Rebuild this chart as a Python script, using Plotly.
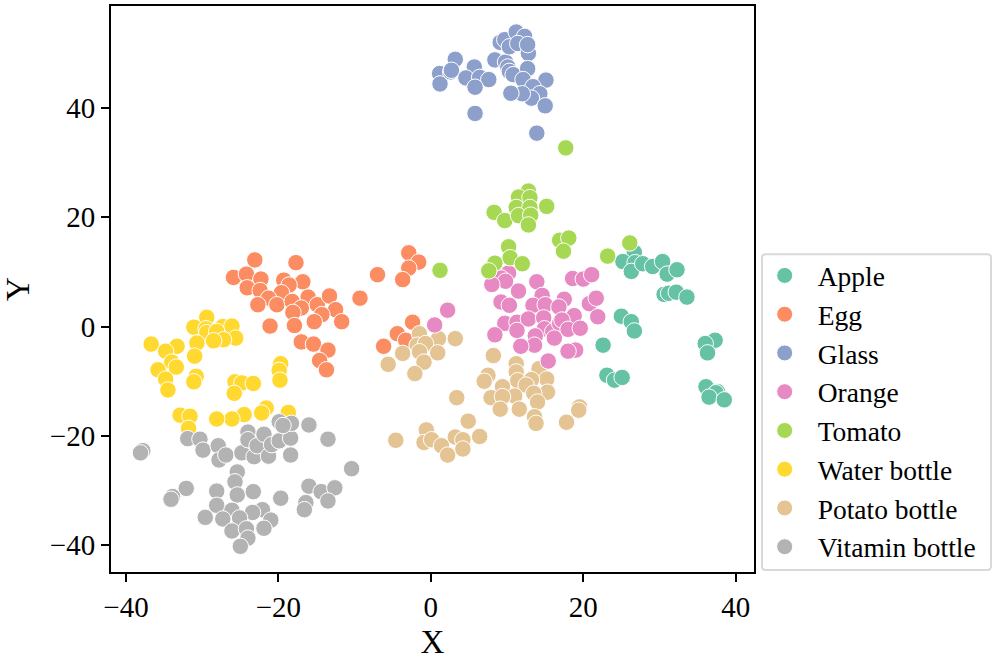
import plotly.graph_objects as go

categories = ["Apple", "Egg", "Glass", "Orange", "Tomato", "Water bottle", "Potato bottle", "Vitamin bottle"]
colors = ["#66c2a5", "#fc8d62", "#8da0cb", "#e78ac3", "#a6d854", "#ffd92f", "#e5c494", "#b3b3b3"]

apple_x = [26.7, 25.2, 26.8, 26.3, 27.8, 29.1, 30.4, 31.0, 32.3, 30.6, 31.2, 32.2, 33.6, 25.0, 26.3, 26.7, 22.6, 23.1, 24.1, 25.1, 37.3, 36.0, 36.3, 36.1, 37.6, 37.4, 36.5, 38.5]
apple_y = [13.6, 11.9, 11.7, 10.1, 11.5, 11.0, 11.9, 9.6, 10.4, 5.9, 6.1, 6.3, 5.4, 1.9, 0.9, -0.8, -3.4, -8.9, -9.8, -9.3, -2.5, -3.1, -4.8, -11.0, -11.9, -12.1, -12.9, -13.4]

egg_x = [-23.1, -17.7, -25.9, -24.2, -22.3, -24.1, -22.4, -19.3, -16.8, -18.6, -19.6, -21.3, -22.7, -20.2, -18.2, -16.1, -17.0, -18.1, -14.9, -13.3, -12.5, -14.3, -15.3, -11.7, -21.1, -17.9, -17.0, -15.4, -13.5, -14.6, -13.7, -9.3, -7.0, -2.9, -1.6, -2.9, -3.7, -2.4, -4.4, -6.2, -3.3]
egg_y = [12.2, 11.7, 9.0, 9.6, 8.7, 7.1, 6.6, 8.5, 8.2, 7.6, 6.2, 5.2, 4.0, 4.0, 4.6, 5.4, 3.4, 2.6, 4.0, 5.6, 3.1, 2.2, 0.9, 0.9, 0.1, 0.2, -2.8, -3.2, -4.3, -6.2, -7.9, 5.2, 9.5, 13.5, 11.8, 10.7, 8.6, 0.8, -1.3, -3.6, -2.5]

glass_x = [1.15, 1.2, 3.2, 2.6, 2.7, 5.7, 4.6, 6.4, 7.6, 5.8, 5.8, 13.9, 8.4, 9.8, 10.1, 10.3, 10.8, 9.1, 9.7, 11.2, 12.3, 10.3, 11.4, 12.8, 12.7, 12.7, 12.1, 15.1, 13.4, 14.3, 13.2, 12.0, 10.5, 15.0]
glass_y = [46.3, 44.4, 48.9, 46.6, 46.9, 47.5, 45.5, 45.6, 45.2, 43.8, 39.0, 35.4, 48.8, 48.4, 47.5, 46.7, 46.1, 52.0, 52.5, 53.9, 53.1, 51.2, 51.8, 50.0, 51.6, 47.2, 45.2, 45.1, 43.9, 42.6, 41.8, 42.6, 42.7, 40.4]

orange_x = [10.2, 9.2, 9.8, 8.0, 13.9, 11.5, 18.6, 20.0, 21.1, 9.2, 10.3, 14.6, 17.5, 20.8, 21.7, 21.9, 13.4, 15.0, 16.8, 18.8, 9.7, 11.3, 12.8, 14.8, 11.3, 8.4, 14.9, 16.0, 16.9, 17.2, 18.0, 19.6, 16.2, 13.7, 13.6, 11.8, 19.0, 18.0, 15.4, 2.2, 0.5]
orange_y = [9.8, 8.9, 8.3, 7.7, 8.2, 6.5, 8.8, 8.7, 9.5, 4.5, 3.9, 5.7, 5.0, 4.2, 5.2, 1.8, 3.9, 4.0, 3.6, 2.0, 0.6, 0.8, 1.4, 1.6, -0.7, -1.5, -0.4, -0.9, 0.6, 1.2, -0.5, -0.3, -2.1, -1.7, -3.4, -3.6, -4.3, -4.5, -6.3, 3.0, 0.3]

tomato_x = [1.2, 17.7, 12.8, 11.5, 13.0, 15.2, 11.2, 13.0, 8.3, 9.7, 11.5, 13.1, 12.8, 16.9, 18.1, 17.4, 23.2, 26.1, 10.2, 10.4, 12.0, 8.4, 7.6]
tomato_y = [10.3, 32.7, 24.8, 23.7, 23.6, 22.0, 21.8, 21.8, 20.9, 19.4, 20.3, 20.4, 18.6, 15.8, 16.2, 13.8, 12.9, 15.3, 14.6, 12.6, 11.5, 11.6, 10.2]

water_x = [-29.4, -31.1, -29.5, -29.4, -27.3, -26.1, -28.1, -25.6, -27.2, -28.5, -30.7, -33.3, -36.7, -34.8, -31.0, -34.0, -33.4, -35.8, -34.8, -34.5, -30.8, -31.1, -25.7, -24.8, -23.3, -25.8, -19.7, -19.9, -19.8, -21.6, -22.2, -18.7, -24.5, -26.1, -28.1, -32.9, -31.6, -31.8]
water_y = [1.7, -0.1, -0.4, -1.1, 0.0, 0.1, -0.9, -2.1, -2.4, -2.6, -3.0, -3.6, -3.2, -4.5, -5.4, -6.5, -7.4, -7.9, -9.6, -11.6, -9.1, -10.1, -10.1, -10.3, -10.4, -12.2, -6.8, -8.0, -9.8, -14.9, -15.8, -15.7, -16.1, -16.9, -16.9, -16.2, -16.4, -18.6]

potato_x = [-1.5, 1.0, 3.2, -1.8, -0.7, 0.9, -3.7, -1.5, -0.9, -5.6, -2.1, 3.4, 4.9, -4.6, -0.6, -0.9, 0.1, 1.4, 2.2, 3.2, 4.2, 4.2, 6.4, 8.2, 11.2, 11.2, 11.4, 7.5, 7.0, 14.2, 15.2, 13.2, 12.5, 15.3, 13.5, 14.0, 9.4, 11.0, 7.9, 9.4, 9.1, 11.6, 13.6, 13.8, 17.8, 19.5, 19.4]
potato_y = [-1.3, -2.2, -2.2, -3.4, -3.1, -4.8, -4.9, -4.6, -6.5, -6.9, -8.6, -13.0, -17.3, -20.8, -18.9, -21.2, -20.7, -21.8, -23.5, -20.2, -20.7, -22.4, -20.1, -5.3, -6.8, -8.3, -9.9, -8.9, -10.0, -7.7, -9.6, -9.7, -10.7, -12.0, -12.2, -13.8, -11.0, -12.7, -13.0, -12.8, -15.1, -15.1, -16.5, -17.7, -17.5, -14.7, -15.3]

vitamin_x = [-37.8, -38.1, -31.9, -30.3, -29.9, -27.9, -27.8, -26.9, -24.8, -24.0, -24.0, -23.2, -22.8, -21.9, -21.3, -20.9, -19.9, -18.4, -18.4, -19.9, -18.3, -19.4, -16.0, -13.5, -10.4, -25.4, -25.7, -32.1, -33.9, -34.1, -28.1, -25.4, -23.3, -19.7, -28.1, -26.1, -22.1, -23.4, -25.1, -29.6, -27.3, -21.0, -21.9, -26.1, -24.2, -24.0, -25.0, -16.0, -14.4, -12.6, -13.5, -16.4, -16.6]
vitamin_y = [-22.7, -23.1, -20.5, -20.6, -22.6, -21.8, -24.4, -23.5, -23.1, -19.3, -20.7, -23.8, -21.8, -19.7, -23.7, -21.6, -20.9, -20.4, -23.5, -17.4, -17.7, -18.1, -18.0, -20.6, -26.0, -26.6, -28.4, -29.6, -31.1, -31.6, -30.1, -30.8, -30.2, -31.4, -32.7, -33.6, -33.5, -34.0, -35.0, -34.9, -35.2, -35.4, -36.9, -37.4, -37.0, -38.7, -40.2, -29.2, -30.2, -29.5, -31.9, -32.2, -33.5]

xs = [apple_x, egg_x, glass_x, orange_x, tomato_x, water_x, potato_x, vitamin_x]
ys = [apple_y, egg_y, glass_y, orange_y, tomato_y, water_y, potato_y, vitamin_y]
draw_order = [0, 1, 2, 6, 3, 4, 5, 7]
x_ticks = [-40, -20, 0, 20, 40]
y_ticks = [-40, -20, 0, 20, 40]
tick_labels = ["\u221240", "\u221220", "0", "20", "40"]

FONT = "Liberation Serif"
fig = go.Figure()
for i in draw_order:
    fig.add_trace(go.Scatter(
        x=xs[i], y=ys[i], mode="markers", name=categories[i], legendgroup=categories[i],
        legendrank=i + 1,
        marker=dict(color=colors[i], size=16.5, line=dict(color="white", width=1)),
    ))

axis = dict(showgrid=False, zeroline=False, showline=True, mirror=True, linecolor="black", linewidth=2,
            ticks="outside", ticklen=8, tickwidth=2, tickcolor="black",
            tickfont=dict(family=FONT, size=29, color="black"))
fig.update_layout(
    width=996, height=664, autosize=False,
    margin=dict(l=111, r=242, t=4, b=92, pad=0),
    paper_bgcolor="white", plot_bgcolor="white",
    font=dict(family=FONT, color="black"),
    xaxis=dict(axis, range=[-41.97, 42.4], tickvals=x_ticks, ticktext=tick_labels,
               title=dict(text="X", font=dict(family=FONT, size=33, color="black"), standoff=8)),
    yaxis=dict(axis, range=[-44.9, 58.66], tickvals=y_ticks, ticktext=tick_labels,
               title=dict(text="Y", font=dict(family=FONT, size=33, color="black"), standoff=11)),
    legend=dict(x=0.9964, xanchor="left", y=0.567, yanchor="top",
                bgcolor="rgba(0,0,0,0)", borderwidth=0,
                font=dict(family=FONT, size=27.5, color="black"),
                tracegroupgap=0, itemwidth=56),
    shapes=[dict(type="path", xref="paper", yref="paper",
                 path="M 1.0124 0.555 L 1.0124 0.010 Q 1.0124 0.0035 1.0185 0.0035 L 1.3625 0.0035 Q 1.3686 0.0035 1.3686 0.010 "
                      "L 1.3686 0.555 Q 1.3686 0.5616 1.3625 0.5616 L 1.0185 0.5616 Q 1.0124 0.5616 1.0124 0.555 Z",
                 line=dict(color="#d9d9d9", width=2), fillcolor="rgba(255,255,255,0)")],
)
fig.write_html("out.html", config={"displayModeBar": False}, post_script="document.body.style.margin='0';")
